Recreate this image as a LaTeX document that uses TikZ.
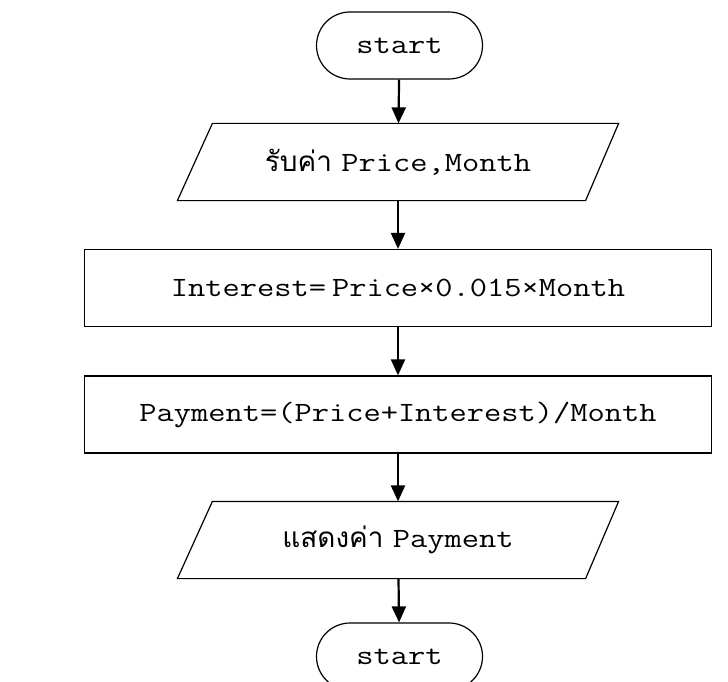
\documentclass[tikz,border=0pt]{standalone}
\usepackage{fontspec}
\newfontfamily\codefont{Latin Modern Mono}[FakeStretch=1.2]
\newfontfamily\thaifont[Script=Thai]{Loma}
\usetikzlibrary{shapes.misc,arrows.meta}
\begin{document}
\begin{tikzpicture}[x=1bp,y=-1bp]
      \tikzstyle{box} = [draw,line width=1.2bp,inner sep=0pt,
        font=\codefont\fontsize{28}{32}\selectfont];
      \tikzstyle{term} = [box,rounded rectangle,minimum width=166bp,minimum height=67bp];
      \tikzstyle{io} = [box,draw=none,rectangle,minimum width=440bp,minimum height=76bp];
      \tikzstyle{proc} = [box,rectangle,minimum width=627bp,minimum height=77bp];
      \tikzstyle{edge} = [line width=1.2bp,line join=miter];
      \tikzstyle{flow} = [line width=2.2bp,-{Triangle[width=14bp,length=16bp]}];
      \useasboundingbox (0,0) rectangle (728,682);
      \node [term] (begin) at (399.5,45.5) {start};
      \node [io] (input) at (398,162) {{\thaifont รับค่า }Price,Month};
      \node [proc] (interest) at (398,288) {Interest=\hspace{6bp}Price×0.015×Month};
      \node [proc] (payment) at (398,414.5) {Payment=(Price+Interest)/Month};
      \node [io] (output) at (398,540) {{\thaifont แสดงค่า }Payment};
      \node [term] (finish) at (399.5,656.5) {start};
      % parallelogram outlines
      \draw [edge] (input.south west) -- ([xshift=35bp]input.north west) -- (input.north east)
        -- ([xshift=-33bp]input.south east) -- cycle;
      \draw [edge] (output.south west) -- ([xshift=35bp]output.north west) -- (output.north east)
        -- ([xshift=-33bp]output.south east) -- cycle;
      \draw [flow] (begin) -- (input);
      \draw [flow] (input) -- (interest);
      \draw [flow] (interest) -- (payment);
      \draw [flow] (payment) -- (output);
      \draw [flow] (output) -- (finish);
    \end{tikzpicture}
\end{document}
